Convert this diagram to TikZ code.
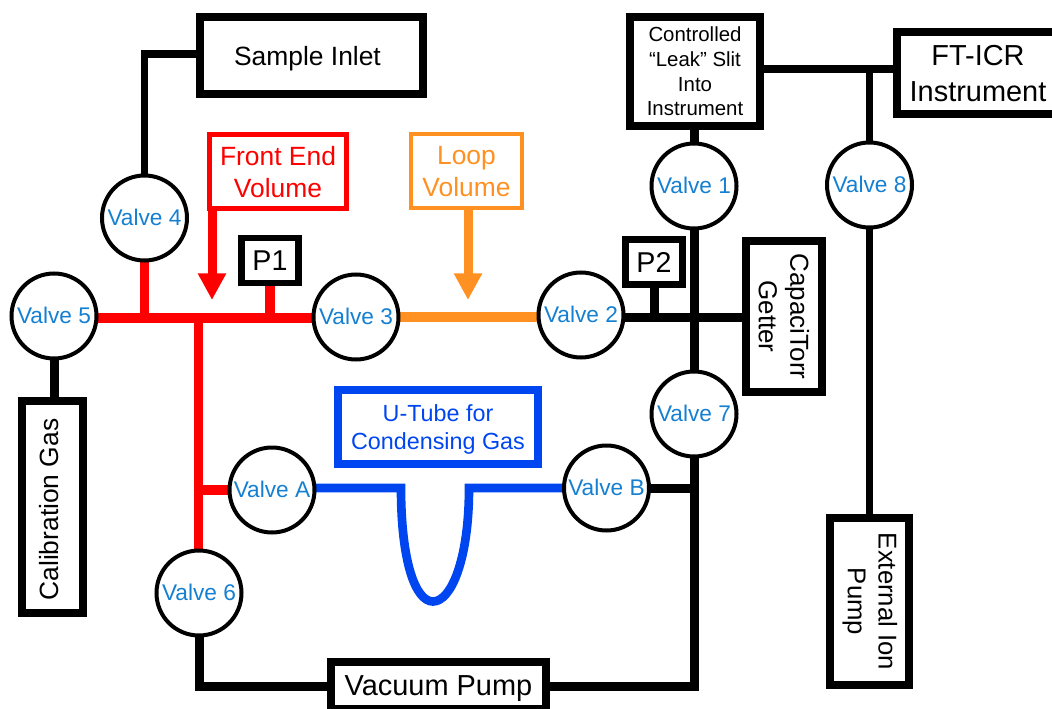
\documentclass[tikz,border=0pt]{standalone}
\usepackage{fontspec}
\setmainfont{Liberation Sans}
\usetikzlibrary{backgrounds,arrows.meta}
\definecolor{vtxt}{RGB}{21,128,210}
\definecolor{myred}{RGB}{255,0,0}
\definecolor{myorange}{RGB}{255,145,35}
\definecolor{myblue}{RGB}{0,70,240}
\tikzset{
  sz/.style n args={2}{minimum width=#1*0.75pt,minimum height=#2*0.75pt},
  fs/.style n args={2}{font=\fontsize{#1}{#2}\selectfont},
  boxnode/.style={draw=black,fill=white,line width=6.25pt,inner sep=0pt,outer sep=0pt,align=center,text=black,text depth=0pt},
  tagbox/.style={boxnode,line width=5pt,sz={57}{45},fs={21.5}{25}},
  volbox/.style={boxnode,line width=3.4pt,fs={19.8}{24}},
  valve/.style={circle,draw=black,fill=white,line width=3pt,minimum size=63.75pt,inner sep=0pt,outer sep=0pt,text=vtxt,text depth=1.5pt,font=\fontsize{17}{20}\selectfont},
  pipe/.style={line width=6.75pt,draw=black},
  thinpipe/.style={line width=5.75pt,draw=black},
  redpipe/.style={line width=7pt,draw=myred},
  orangepipe/.style={line width=7.5pt,draw=myorange},
  bluepipe/.style={line width=6.5pt,draw=myblue},
  volarrow/.style={line width=6.75pt,-{Triangle[length=20pt,width=20pt]}}
}
\begin{document}
\begin{tikzpicture}[x=0.75pt,y=-0.75pt]
\useasboundingbox (0,0) rectangle (1052,709);
\clip (0,0) rectangle (1052,709);
% boxes
\node[boxnode,sz={223}{77},fs={19.8}{24}] (inlet) at (311.5,55.5) {Sample Inlet\hspace*{6pt}};
\node[boxnode,sz={130}{109},fs={15.3}{18.5}] (leak) at (695,71.5) {Controlled\\“Leak” Slit\\Into\\Instrument};
\node[boxnode,sz={162}{82},fs={21.7}{27}] (ftr) at (978,73) {FT-ICR\\Instrument};
\node[tagbox] (p1) at (270,260.5) {P1};
\node[tagbox] (p2) at (654,262) {P2};
\node[boxnode,rotate=-90,sz={151}{76},fs={19.5}{23.5}] (getter) at (784,316.5) {CapaciTorr\\Getter};
\node[boxnode,rotate=90,sz={212}{61},fs={19.8}{24},text depth=6pt] (calib) at (52.5,507) {Calibration Gas\hspace*{3.8pt}};
\node[boxnode,rotate=-90,sz={167}{79},fs={19.3}{23},text depth=4.5pt] (ion) at (869.5,601.5) {External Ion\\Pump};
\node[boxnode,sz={215}{47},fs={21.7}{26}] (vac) at (438.5,685.5) {Vacuum Pump};
\node[volbox,draw=myred,text=myred,sz={137.5}{74.5}] (front) at (278,171.5) {Front End\\Volume};
\node[volbox,draw=myorange,text=myorange,sz={111}{74}] (loop) at (466.5,171) {Loop\\Volume};
\node[boxnode,draw=myblue,text=myblue,sz={200}{74},fs={17.5}{21}] (utube) at (438,427) {U-Tube for\\Condensing Gas};
% valves
\node[valve] (v1) at (694,186) {Valve 1};
\node[valve] (v2) at (581,315) {Valve 2};
\node[valve] (v3) at (356,317) {Valve 3};
\node[valve] (v4) at (144.5,218) {Valve 4};
\node[valve] (v5) at (54,316) {Valve 5};
\node[valve] (v6) at (199,593) {Valve 6};
\node[valve] (v7) at (694,414) {Valve 7};
\node[valve] (v8) at (869.5,185) {Valve 8};
\node[valve] (va) at (272,490) {Valve A};
\node[valve] (vb) at (606.5,488) {Valve B};
% junctions
\coordinate (jinlet) at (144.5,54);
\coordinate (j4) at (144.5,318);
\coordinate (jp1) at (270,318);
\coordinate (j6) at (198.5,318);
\coordinate (ja) at (198.5,490);
\coordinate (jp2) at (654,317);
\coordinate (jb) at (694,488);
\coordinate (j8) at (869.5,69);
\coordinate (jvl) at (199,686);
\coordinate (jvr) at (694,686);
\coordinate (tipf) at (212,300);
\coordinate (tipl) at (468,300);
\coordinate (u1) at (401,488);
\coordinate (ub) at (433,601.5);
\coordinate (u2) at (469,488);
\begin{scope}[on background layer]
\draw[thinpipe] (v4.north) -- (jinlet) -- (inlet.west |- jinlet);
\draw[pipe] (v1.north) -- (v1.north |- leak.south);
\draw[thinpipe] (leak.east |- j8) -- (ftr.west |- j8);
\draw[thinpipe] (j8) -- (v8.north);
\draw[thinpipe] (v8.south) -- (v8.south |- ion.west);
\draw[pipe] (v5.south) -- (v5.south |- calib.east);
\draw[pipe] (v2 |- jp2) -- (jp2) -- (getter.south |- jp2);
\draw[pipe] (p2.south) -- (jp2);
\draw[pipe] (v1.south) -- (v7.north);
\draw[pipe] (v7.south) -- (jvr) -- (vac.east |- jvr);
\draw[pipe] (vb.east) -- (jb);
\draw[pipe] (v6.south) -- (jvl) -- (vac.west |- jvl);
\draw[redpipe] (v5.east |- j4) -- (v3.west |- j4);
\draw[redpipe] (v4.south) -- (j4);
\draw[redpipe] (p1.south) -- (jp1);
\draw[redpipe] (j6) -- (j6 |- v6.north);
\draw[redpipe] (ja) -- (va.west);
\draw[orangepipe] (v3.east) -- (v3.east -| v2.west);
\draw[bluepipe] (va.east |- u1) -- (u1) .. controls (401,560) and (415,601.5) .. (ub) .. controls (451,601.5) and (469,560) .. (u2) -- (vb.west);
\end{scope}
\draw[volarrow,myred] (tipf |- front.south) -- (tipf);
\draw[volarrow,myorange] (tipl |- loop.south) -- (tipl);
\end{tikzpicture}
\end{document}
